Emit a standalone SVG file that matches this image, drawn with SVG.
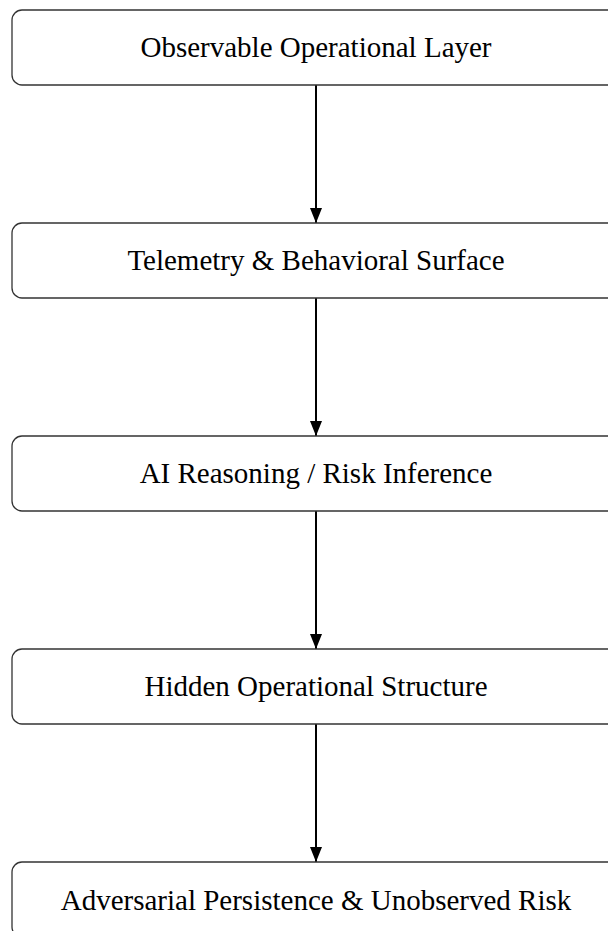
<svg xmlns="http://www.w3.org/2000/svg" width="608" height="931" viewBox="0 0 608 931">
<style>
.box{fill:#fff;stroke:#333;stroke-width:1.3}
.lbl{font-family:"Liberation Serif","Times New Roman",serif;font-size:29px;fill:#000;text-anchor:middle}
.edge{stroke:#000;stroke-width:2;fill:none;marker-end:url(#ah)}
</style>
<defs>
<marker id="ah" markerWidth="15" markerHeight="12" refX="15" refY="6" orient="auto" markerUnits="userSpaceOnUse" viewBox="0 0 15 12">
<path d="M0,0 L15,6 L0,12 Z" fill="#000"/>
</marker>
</defs>
<rect width="608" height="931" fill="#fff"/>
<g id="connectors">
<line class="edge" x1="316" y1="85" x2="316" y2="223"/>
<line class="edge" x1="316" y1="298" x2="316" y2="436"/>
<line class="edge" x1="316" y1="511" x2="316" y2="649"/>
<line class="edge" x1="316" y1="724" x2="316" y2="862"/>
</g>
<g id="n1"><rect class="box" x="12" y="10" width="610" height="75" rx="10"/><text class="lbl" x="316" y="57">Observable Operational Layer</text></g>
<g id="n2"><rect class="box" x="12" y="223" width="610" height="75" rx="10"/><text class="lbl" x="316" y="270">Telemetry &amp; Behavioral Surface</text></g>
<g id="n3"><rect class="box" x="12" y="436" width="610" height="75" rx="10"/><text class="lbl" x="316" y="483">AI Reasoning / Risk Inference</text></g>
<g id="n4"><rect class="box" x="12" y="649" width="610" height="75" rx="10"/><text class="lbl" x="316" y="696">Hidden Operational Structure</text></g>
<g id="n5"><rect class="box" x="12" y="862" width="610" height="75" rx="10"/><text class="lbl" x="316" y="910">Adversarial Persistence &amp; Unobserved Risk</text></g>
</svg>
